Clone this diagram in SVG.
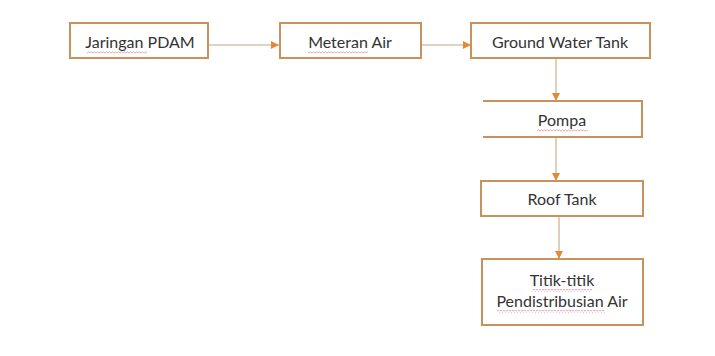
<svg xmlns="http://www.w3.org/2000/svg" width="715" height="356" viewBox="0 0 715 356">
  <defs>
    <style>
      .box { fill: #ffffff; stroke: #c8925c; stroke-width: 2; }
      .open { fill: #ffffff; stroke: none; }
      .edge { stroke: #c8925c; stroke-width: 2; fill: none; }
      .lbl { font-family: "Lato", "Open Sans", "Liberation Sans", sans-serif; font-size: 16px; fill: #333333; text-anchor: middle; }
      .conn { stroke: #d8c3ad; stroke-width: 1.6; fill: none; marker-end: url(#arr); }
      .squig { fill: url(#wave); }
    </style>
    <marker id="arr" viewBox="0 0 10 10" refX="10" refY="5" markerWidth="8" markerHeight="8" markerUnits="userSpaceOnUse" orient="auto">
      <path d="M0,0 L10,5 L0,10 z" fill="#e2893a"/>
    </marker>
    <pattern id="wave" width="3" height="3" patternUnits="userSpaceOnUse">
      <path d="M0,2.2 L1.5,0.8 L3,2.2" stroke="#d9708c" stroke-width="0.8" fill="none" opacity="0.8"/>
    </pattern>
  </defs>
  <rect width="715" height="356" fill="#ffffff"/>

  <g id="connectors">
    <line class="conn" x1="208" y1="45" x2="279" y2="45"/>
    <line class="conn" x1="421" y1="45" x2="471" y2="45"/>
    <line class="conn" x1="556" y1="58" x2="556" y2="101"/>
    <line class="conn" x1="556" y1="137" x2="556" y2="181"/>
    <line class="conn" x1="559" y1="216" x2="559" y2="259"/>
  </g>

  <g id="jaringan-pdam">
    <rect class="box" x="70" y="23" width="138" height="35"/>
    <text class="lbl" x="140" y="47.5">Jaringan PDAM</text>
    <rect class="squig" x="87" y="51" width="60" height="3"/>
  </g>

  <g id="meteran-air">
    <rect class="box" x="280" y="23" width="141" height="35"/>
    <text class="lbl" x="350" y="47.5">Meteran Air</text>
    <rect class="squig" x="308" y="51" width="60" height="3"/>
  </g>

  <g id="ground-water-tank">
    <rect class="box" x="471" y="23" width="179" height="35"/>
    <text class="lbl" x="560" y="47.5">Ground Water Tank</text>
  </g>

  <g id="pompa">
    <rect class="open" x="483" y="101" width="159" height="36"/>
    <path class="edge" d="M483,101 H642 V137 H483"/>
    <text class="lbl" x="562" y="125.5">Pompa</text>
    <rect class="squig" x="537" y="129" width="51" height="3"/>
  </g>

  <g id="roof-tank">
    <rect class="box" x="481" y="181" width="162" height="35"/>
    <text class="lbl" x="562" y="204.5">Roof Tank</text>
  </g>

  <g id="titik-distribusi">
    <rect class="box" x="482" y="259" width="161" height="66"/>
    <text class="lbl" x="562" y="286">Titik-titik</text>
    <text class="lbl" x="562" y="307">Pendistribusian Air</text>
    <rect class="squig" x="532" y="289" width="60" height="3"/>
    <rect class="squig" x="497" y="310" width="108" height="3"/>
  </g>
</svg>
